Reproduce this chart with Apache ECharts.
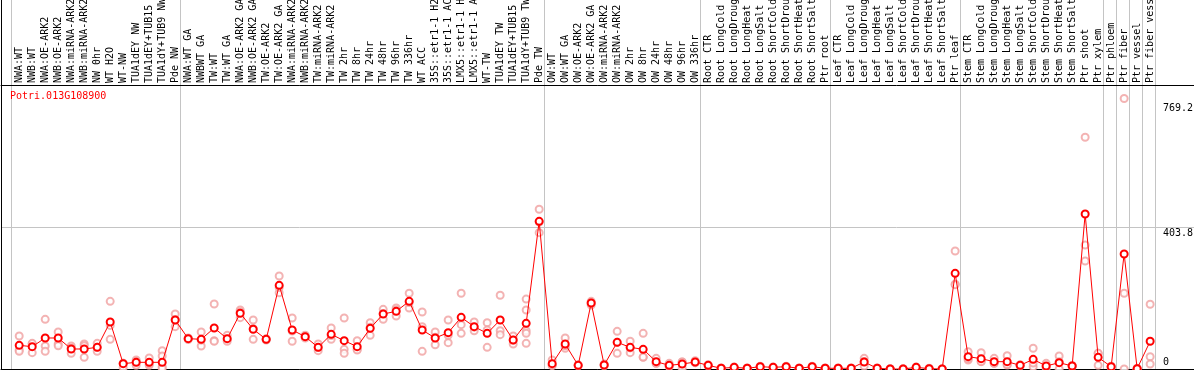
<!DOCTYPE html>
<html>
<head>
<meta charset="utf-8">
<script src="https://cdn.jsdelivr.net/npm/echarts@6/dist/echarts.min.js"></script>
<style>
html,body{margin:0;padding:0;background:#fff;}
#chart{width:1194px;height:370px;}
</style>
</head>
<body>
<div id="chart"></div>
<script>
const geneTitle = 'Potri.013G108900';

const categories = [
  'NWA:WT','NWB:WT','NWA:OE-ARK2','NWB:OE-ARK2','NWA:miRNA-ARK2','NWB:miRNA-ARK2','NW 0hr','WT H2O','WT-NW',
  'TUA1dEY NW','TUA1dEY+TUB15 NW','TUA1dY+TUB9 NW','Pde NW',
  'NWA:WT GA','NWBWT GA','TW:WT','TW:WT GA','NWA:OE-ARK2 GA','NWB:OE-ARK2 GA','TW:OE-ARK2','TW:OE-ARK2 GA',
  'NWA:miRNA-ARK2 GA','NWB:miRNA-ARK2 GA','TW:miRNA-ARK2','TW:miRNA-ARK2 GA','TW 2hr','TW 8hr','TW 24hr','TW 48hr',
  'TW 96hr','TW 336hr','WT ACC','35S::etr1-1 H2O','35S::etr1-1 ACC','LMX5::etr1-1 H2O','LMX5::etr1-1 ACC','WT-TW',
  'TUA1dEY TW','TUA1dEY+TUB15 TW','TUA1dY+TUB9 TW','Pde TW',
  'OW:WT','OW:WT GA','OW:OE-ARK2','OW:OE-ARK2 GA','OW:miRNA-ARK2','OW:miRNA-ARK2 GA','OW 2hr','OW 8hr','OW 24hr',
  'OW 48hr','OW 96hr','OW 336hr',
  'Root CTR','Root LongCold','Root LongDrought','Root LongHeat','Root LongSalt','Root ShortCold','Root ShortDrought',
  'Root ShortHeat','Root ShortSalt','Ptr root',
  'Leaf CTR','Leaf LongCold','Leaf LongDrought','Leaf LongHeat','Leaf LongSalt','Leaf ShortCold','Leaf ShortDrought',
  'Leaf ShortHeat','Leaf ShortSalt','Ptr leaf',
  'Stem CTR','Stem LongCold','Stem LongDrought','Stem LongHeat','Stem LongSalt','Stem ShortCold','Stem ShortDrought',
  'Stem ShortHeat','Stem ShortSalt','Ptr shoot','Ptr xylem','Ptr phloem','Ptr fiber','Ptr vessel','Ptr fiber vessel'
];

const meanValues = [
  67.3,63.5,88.2,88.2,56.9,56.9,61.6,133.7,15.2,19.0,19.0,19.0,139.4,
  86.3,84.4,116.6,86.3,158.4,112.9,84.4,238.0,110.9,92.0,61.6,98.6,80.6,63.5,115.6,156.4,164.0,192.5,110.9,88.2,103.3,146.9,120.4,101.4,139.4,82.5,129.9,420.0,
  15.2,71.1,10.4,187.7,11.4,75.9,61.6,56.0,20.8,10.4,14.2,19.9,
  10.4,2.0,4.7,2.0,6.6,4.7,6.6,2.0,6.6,2.0,
  2.0,2.0,19.9,2.0,0,0,4.7,1.0,0,272.1,
  35.1,29.4,20.8,20.8,10.4,27.5,8.5,18.0,8.5,440.8,33.2,6.6,327.1,1.0,78.8
];

const replicateValues = [
  [93.9,54.0,50.3],[71.1,46.4,73],[141.2,65.4,50.3],[105.2,71.1,66],[65.4,44.6,60],[71.1,33.2,66],[73.0,50.3,62],
  [192.5,84.4,124],[16,4,16],[25.6,10.4,21],[31.3,10.4,15],[52.1,37.0,6.6,2],[156.4,120.4,141],
  [88,84,87],[105.2,65.4,82],[184.9,80.6,78.8],[95.8,84.4,79],[167.8,162.1,146],[139.4,84.4,115],[86.3,82.5,84],
  [264.5,217.0,232],[145.1,78.8,108],[96,88,92],[71.1,52.1,61],[116.6,84.4,95],[145.1,56.0,44.6],[80.6,56.0,54],
  [131.8,95.8,119],[169.7,141.4,158],[173.5,150.7,168],[215.3,173.5,189],[162.1,120.4,50.3],[105.2,69.1,90],
  [139.4,74.9,96],[215.3,126.1,101.4],[133.7,108.9,119],[131.8,61.6,111],[209.6,108.9,97.6],[93.9,71.1,82],
  [198.8,167.8,108.9,101.4,73.0],[454.2,387.7,418],
  [25.6,10.4,9.6],[88.2,58.9,66],[10.4,12,9],[192.5,188,182],[11.4,14,9],[107.1,44.6,76],[78.8,46.4,60],
  [101.4,33.2,34],[30.4,16.1,16],[16.1,6.6,8.5],[2,20,20],[23.6,18,18],
  [12,10,9],[3,2,1],[6,4,4],[3,2,1],[8,6,6],[6,4,4],[8,6,6],[3,2,1],[8,6,6],[3,2,1],
  [3,2,1],[3,2,1],[30.4,8.5,21],[2,1,3],[0,1,0],[0,0,1],[6,4,4],[1,2,0],[0,0,0],[335.6,240.9,239.8],
  [49.3,25.6,30],[46.4,20.8,21],[30.4,16.1,16],[37.9,11.4,13],[12,10,9],[58.9,6.6,17],[16.1,2,7.4],
  [37.0,20.8,0],[8.5,10,7],[659.0,352.7,307.1],[44.6,10.4,44.6],[4.7,8,7],[769.2,215.3,0],[0,1,2],[184.0,35.1,14.2]
];

// group breaks: number of categories before each separator line
const groupBreaks = [0,13,41,53,63,73,84,85,86,87,88];

const yTickValues = [0, 403.83, 769.2];
const yTickLabels = ['0', '403.8', '769.2'];
const yMax = 807.66;

// ---- build ----
const xMin = -0.4;
const xMax = 91.45;
const sepValues = groupBreaks.map(k => k + 0.4);
const labelValues = categories.map((c, i) => i + 1);
const meanData = meanValues.map((v, i) => [i + 1, v]);
const repData = [];
replicateValues.forEach((arr, i) => arr.forEach(v => repData.push([i + 1, v])));

const mono = 'DejaVu Sans Mono';
const gray = '#c4c4c4';
const labelStyles = ['b', 't', 'm'];

const chart = echarts.init(document.getElementById('chart'), null, {renderer: 'canvas'});
chart.setOption({
  animation: false,
  backgroundColor: '#fff',
  title: {
    text: geneTitle, left: 10, top: 91, padding: 0,
    textStyle: {color: '#ff0000', fontSize: 10, fontFamily: mono, fontWeight: 'normal'}
  },
  grid: [
    {left: 1, right: -1, top: 0, height: 85, containLabel: false, outerBoundsMode: 'none'},
    {left: 1, right: -1, top: 85, bottom: 1, containLabel: false, outerBoundsMode: 'none'}
  ],
  xAxis: [
    {
      gridIndex: 0, type: 'value', min: xMin, max: xMax,
      axisLine: {show: false}, axisLabel: {show: false},
      axisTick: {show: false, customValues: sepValues},
      splitLine: {show: true, lineStyle: {color: gray, width: 1}}
    },
    {
      gridIndex: 1, type: 'value', position: 'top', min: xMin, max: xMax,
      axisLine: {show: true, onZero: false, lineStyle: {color: '#000', width: 1}},
      axisTick: {show: false, customValues: sepValues},
      splitLine: {show: true, lineStyle: {color: gray, width: 1}},
      axisLabel: {
        customValues: labelValues,
        formatter: v => categories[Math.round(v) - 1] || '',
        rotate: -90, margin: 2, fontSize: 10, fontFamily: mono, color: '#000',
        hideOverlap: false
      }
    },
    {
      gridIndex: 1, type: 'value', position: 'bottom', min: xMin, max: xMax,
      axisLine: {show: true, onZero: false, lineStyle: {color: '#000', width: 1}},
      axisTick: {show: false}, axisLabel: {show: false}, splitLine: {show: false}
    }
  ],
  yAxis: [
    {
      gridIndex: 0, type: 'value', position: 'left', min: 0, max: 1,
      axisLine: {show: true, onZero: false, lineStyle: {color: '#000', width: 1}},
      axisTick: {show: false}, axisLabel: {show: false}, splitLine: {show: false}
    },
    {
      gridIndex: 1, type: 'value', position: 'right', min: 0, max: yMax, interval: yMax / 2,
      axisLine: {show: false}, axisTick: {show: false},
      splitLine: {show: true, lineStyle: {color: gray, width: 1}},
      axisLabel: {
        inside: true, align: 'left', margin: 32,
        customValues: yTickValues,
        formatter: v => {
          const idx = yTickValues.findIndex(t => Math.abs(t - v) < 0.01);
          if (idx < 0) return '';
          return '{' + labelStyles[idx] + '|' + yTickLabels[idx] + '}';
        },
        fontSize: 10, fontFamily: mono, color: '#000',
        rich: {
          t: {fontSize: 10, fontFamily: mono, color: '#000', lineHeight: 12, padding: [12, 0, 0, 0]},
          m: {fontSize: 10, fontFamily: mono, color: '#000', lineHeight: 12, padding: [19, 0, 0, 0]},
          b: {fontSize: 10, fontFamily: mono, color: '#000', lineHeight: 12, padding: [0, 0, 14, 0]}
        }
      }
    },
    {
      gridIndex: 1, type: 'value', position: 'left', min: 0, max: 1,
      axisLine: {show: true, onZero: false, lineStyle: {color: '#000', width: 1}},
      axisTick: {show: false}, axisLabel: {show: false}, splitLine: {show: false}
    }
  ],
  series: [
    {
      type: 'scatter', xAxisIndex: 1, yAxisIndex: 1, data: repData,
      symbol: 'emptyCircle', symbolSize: 7,
      itemStyle: {color: '#f0a0a0', borderColor: '#f0a0a0', borderWidth: 1},
      silent: true, z: 2
    },
    {
      type: 'line', xAxisIndex: 1, yAxisIndex: 1, data: meanData,
      symbol: 'emptyCircle', symbolSize: 7, showSymbol: true,
      lineStyle: {color: '#ff0000', width: 1},
      itemStyle: {color: '#ff0000', borderColor: '#ff0000', borderWidth: 1.5},
      silent: true, z: 3
    }
  ]
});
</script>
</body>
</html>
